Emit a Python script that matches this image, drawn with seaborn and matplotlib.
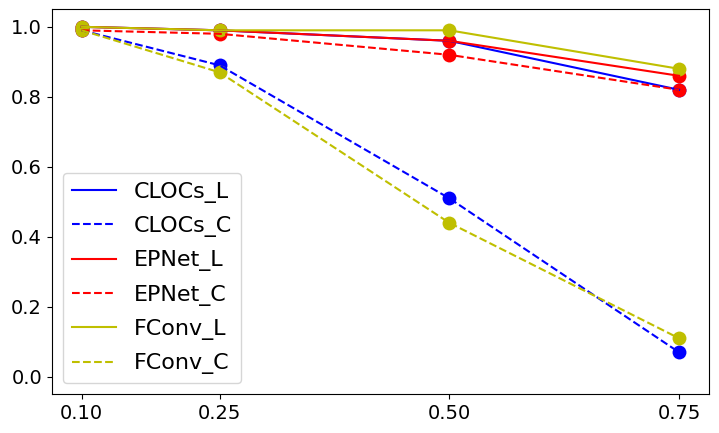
import matplotlib
matplotlib.use('Agg')
import seaborn as sns
import matplotlib.pyplot as plt

x_vals = [0.10, 0.25, 0.50, 0.75]

clocs_l = [1.00, 0.99, 0.96, 0.82]
clocs_c = [0.99, 0.89, 0.51, 0.07]
epnet_l = [1.00, 0.99, 0.96, 0.86]
epnet_c = [0.99, 0.98, 0.92, 0.82]
fconv_l = [1.00, 0.99, 0.99, 0.88]
fconv_c = [0.99, 0.87, 0.44, 0.11]

names = ['CLOCs_L', 'CLOCs_C', 'EPNet_L', 'EPNet_C', 'FConv_L', 'FConv_C']
series = [clocs_l, clocs_c, epnet_l, epnet_c, fconv_l, fconv_c]
colors = ['b', 'b', 'r', 'r', 'y', 'y']
styles = ['-', '--', '-', '--', '-', '--']

fig, ax = plt.subplots(figsize=(7.19, 4.33), dpi=100)

for name, ys, c, ls in zip(names, series, colors, styles):
  sns.lineplot(x=x_vals, y=ys, color=c, linestyle=ls, label=name, ax=ax)
  sns.scatterplot(x=x_vals, y=ys, color=c, s=100, linewidth=0, legend=False, ax=ax)

ax.set_xticks(x_vals)
ax.set_xticklabels(['0.10', '0.25', '0.50', '0.75'])
ax.set_ylim(-0.05, 1.05)
ax.tick_params(labelsize=14)
ax.legend(loc='lower left', fontsize=16, labelspacing=0.6)

fig.subplots_adjust(left=0.072, right=0.986, top=0.9785, bottom=0.0894)
fig.savefig('out.png', dpi=100)
